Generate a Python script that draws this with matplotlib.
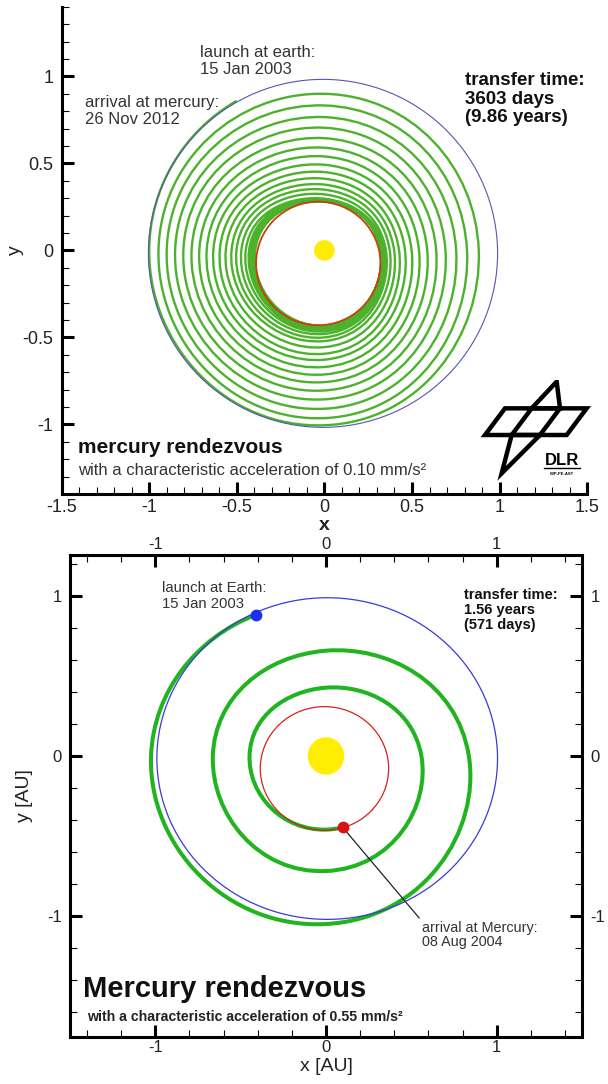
import numpy as np
import matplotlib
matplotlib.use('Agg')
import matplotlib.pyplot as plt
from matplotlib.patches import Ellipse, Polygon, PathPatch
from matplotlib.path import Path
from matplotlib.ticker import MultipleLocator, FuncFormatter

plt.rcParams['font.family'] = ['Liberation Sans', 'DejaVu Sans']
plt.rcParams['axes.unicode_minus'] = False

########################## top panel : 0.10 mm/s^2 ##########################
# ellipses: centre x, centre y, width, height  [AU]
earth_top = [-0.008, -0.017, 1.993, 2.0]
mercury_top = [-0.035, -0.075, 0.71, 0.71]
sun_top = [0.0, 0.0, 0.11, 0.11]

# spiral: distance from the sun where the path cuts the axes,
# one entry per turn, each turn read left -> bottom -> right -> top
launch_top = (-0.5, 0.86)
top_left = [1.0, 0.947, 0.900, 0.852, 0.805, 0.758, 0.714, 0.672, 0.634, 0.597,
            0.563, 0.530, 0.502, 0.474, 0.449, 0.430, 0.418, 0.408, 0.400, 0.395]
top_bottom = [1.005, 0.964, 0.910, 0.856, 0.805, 0.757, 0.713, 0.670, 0.628, 0.594,
              0.556, 0.521, 0.500, 0.480, 0.465, 0.455, 0.447, 0.440, 0.435, 0.432]
top_right = [0.881, 0.814, 0.752, 0.691, 0.638, 0.587, 0.540, 0.498, 0.460, 0.426,
             0.398, 0.373, 0.351, 0.340, 0.333, 0.328, 0.324, 0.321, 0.320, 0.320]
top_top = [0.900, 0.833, 0.766, 0.705, 0.645, 0.590, 0.540, 0.492, 0.450, 0.412,
           0.378, 0.349, 0.322, 0.297, 0.292, 0.288, 0.285, 0.282, 0.280, 0.280]

########################## bottom panel : 0.55 mm/s^2 #######################
earth_bot = [0.007, -0.016, 1.996, 2.01]
mercury_bot = [-0.009, -0.078, 0.752, 0.773]
sun_bot = [0.0, 0.0, 0.205, 0.225]

launch_bot = (-0.41, 0.883)
arrival_bot = (0.098, -0.446)
arrival_text_pos = (0.56, -1.03)
bot_left = [1.025, 0.663, 0.448]
bot_bottom = [1.05, 0.719, 0.46]
bot_right = [0.837, 0.559]
bot_top = [0.658, 0.427]


def spiral_path(start, lefts, bottoms, rights, tops, end=None):
    # crossing points in polar form, joined by cubic bezier segments
    th = [np.degrees(np.arctan2(start[1], start[0])) % 360]
    r = [np.hypot(*start)]
    for k in range(len(lefts)):
        for j, lst in enumerate([lefts, bottoms, rights, tops]):
            if k < len(lst):
                th.append(180.0 + 360.0 * k + 90.0 * j)
                r.append(lst[k])
    if end is not None:
        te = np.degrees(np.arctan2(end[1], end[0])) % 360
        while te <= th[-1]:
            te += 360.0
        th.append(te)
        r.append(np.hypot(*end))
    th = np.radians(th)
    r = np.array(r)
    n = len(th)
    dr = np.gradient(r, th)
    pts = np.c_[r * np.cos(th), r * np.sin(th)]
    der = np.c_[dr * np.cos(th) - r * np.sin(th), dr * np.sin(th) + r * np.cos(th)]
    verts = [pts[0]]
    codes = [Path.MOVETO]
    for i in range(n - 1):
        h = 4.0 / 3.0 * np.tan((th[i + 1] - th[i]) / 4.0)
        verts += [pts[i] + h * der[i], pts[i + 1] - h * der[i + 1], pts[i + 1]]
        codes += [Path.CURVE4] * 3
    return Path(verts, codes)


def orbit(ax, p, **kw):
    ax.add_patch(Ellipse((p[0], p[1]), p[2], p[3], fill=False, **kw))


fmt = FuncFormatter(lambda v, p: '%g' % (v + 0.0))
fig = plt.figure(figsize=(6.08, 10.84), dpi=100)

########################## top ##########################
ax1 = fig.add_axes([61.6 / 608, 1 - 494 / 1084, 525.6 / 608, 487.2 / 1084])
ax1.set_xlim(-1.5, 1.5)
ax1.set_ylim(-1.4, 1.4)

ax1.add_patch(PathPatch(spiral_path(launch_top, top_left, top_bottom, top_right, top_top),
                        fill=False, ec='#4cb22c', lw=1.7, zorder=2))
orbit(ax1, earth_top, color='#5656b0', lw=0.8, zorder=3)
orbit(ax1, mercury_top, color='#c8400c', lw=1.3, zorder=3)
ax1.add_patch(Ellipse((sun_top[0], sun_top[1]), sun_top[2], sun_top[3], color='#ffec00', zorder=4))

for s in ['top', 'right']:
    ax1.spines[s].set_visible(False)
for s in ['left', 'bottom']:
    ax1.spines[s].set_linewidth(2.2)
ax1.xaxis.set_major_locator(MultipleLocator(0.5))
ax1.xaxis.set_minor_locator(MultipleLocator(0.1))
ax1.yaxis.set_major_locator(MultipleLocator(0.5))
ax1.yaxis.set_minor_locator(MultipleLocator(0.1))
ax1.xaxis.set_major_formatter(fmt)
ax1.yaxis.set_major_formatter(fmt)
ax1.tick_params(which='both', direction='in', labelsize=13, labelcolor='#222')
ax1.tick_params(which='major', length=8.5, width=2.2)
ax1.tick_params(which='minor', length=5, width=0.8)
ax1.tick_params(axis='x', pad=3.5)
ax1.tick_params(axis='y', pad=6)
ax1.set_xlabel('x', fontsize=14, fontweight='bold', color='#222')
ax1.set_ylabel('y', fontsize=14, color='#222')
ax1.xaxis.set_label_coords(0.5, -0.047)
ax1.yaxis.set_label_coords(-0.072, 0.5)

ax1.text(-0.71, 1.087, 'launch at earth:\n15 Jan 2003', fontsize=12, color='#333',
         va='center', ha='left', linespacing=1.15)
ax1.text(-1.367, 0.80, 'arrival at mercury:\n26 Nov 2012', fontsize=12, color='#333',
         va='center', ha='left', linespacing=1.15)
ax1.text(0.805, 0.87, 'transfer time:\n3603 days\n(9.86 years)', fontsize=13.5,
         fontweight='bold', color='#111', va='center', ha='left', linespacing=1.12)
ax1.text(-1.407, -1.132, 'mercury rendezvous', fontsize=15, fontweight='bold',
         color='#111', va='center', ha='left')
ax1.text(-1.407, -1.264, 'with a characteristic acceleration of 0.10 mm/s²',
         fontsize=12, color='#333', va='center', ha='left')

# DLR logo
lg = fig.add_axes([440 / 608, 1 - 520 / 1084, 168 / 608, 140 / 1084])
lg.set_xlim(0, 504)
lg.set_ylim(420, 0)
lg.axis('off')
logo_kw = dict(fill=False, ec='black', lw=3.2, joinstyle='miter')
lg.add_patch(Polygon([(135, 165), (195, 85), (440, 85), (380, 165)], closed=True, **logo_kw))
lg.add_patch(Polygon([(275, 85), (350, 5), (360, 85)], closed=True, **logo_kw))
lg.add_patch(Polygon([(215, 165), (185, 280), (300, 165)], closed=True, **logo_kw))
lg.plot([215, 275], [165, 85], color='black', lw=3.2)
lg.plot([300, 360], [165, 85], color='black', lw=3.2)
lg.text(365, 242, 'DLR', fontsize=12, fontweight='bold', ha='center', va='center')
lg.plot([312, 420], [264, 264], color='black', lw=1.0)
lg.text(365, 282, 'WP-PE-AST', fontsize=3, fontweight='bold', ha='center', va='center')

########################## bottom ##########################
ax2 = fig.add_axes([70 / 608, 1 - 1037 / 1084, 512 / 608, 482 / 1084])
ax2.set_xlim(-1.5, 1.5)
ax2.set_ylim(-1.756, 1.256)

ax2.add_patch(PathPatch(spiral_path(launch_bot, bot_left, bot_bottom, bot_right, bot_top,
                                    arrival_bot),
                        fill=False, ec='#20b420', lw=2.9, zorder=2))
orbit(ax2, earth_bot, color='#3a3ad8', lw=0.9, zorder=3)
orbit(ax2, mercury_bot, color='#d42020', lw=0.9, zorder=3)
ax2.add_patch(Ellipse((sun_bot[0], sun_bot[1]), sun_bot[2], sun_bot[3], color='#ffee00', zorder=4))
ax2.plot(*launch_bot, 'o', ms=7.5, color='#1f2ff0', zorder=5)
ax2.plot(*arrival_bot, 'o', ms=7.5, color='#d61414', zorder=5)

for s in ax2.spines.values():
    s.set_linewidth(2.2)
ax2.xaxis.set_major_locator(MultipleLocator(1))
ax2.xaxis.set_minor_locator(MultipleLocator(0.2))
ax2.yaxis.set_major_locator(MultipleLocator(1))
ax2.yaxis.set_minor_locator(MultipleLocator(0.2))
ax2.xaxis.set_major_formatter(fmt)
ax2.yaxis.set_major_formatter(fmt)
ax2.tick_params(which='both', direction='in', top=True, right=True, labeltop=True,
                labelright=True, labelsize=12, labelcolor='#222')
ax2.tick_params(which='major', length=8.5, width=2.2)
ax2.tick_params(which='minor', length=5, width=0.8)
ax2.tick_params(axis='x', pad=2.5)
ax2.tick_params(axis='y', pad=6)
ax2.set_xlabel('x [AU]', fontsize=14, color='#222')
ax2.set_ylabel('y [AU]', fontsize=14, color='#222')
ax2.xaxis.set_label_coords(0.5, -0.044)
ax2.yaxis.set_label_coords(-0.072, 0.5)

ax2.text(-0.959, 1.0, 'launch at Earth:\n15 Jan 2003', fontsize=10.7, color='#333',
         va='center', ha='left', linespacing=1.1)
ax2.text(0.81, 0.9125, 'transfer time:\n1.56 years\n(571 days)', fontsize=10.5,
         fontweight='bold', color='#111', va='center', ha='left', linespacing=1.05)
ax2.annotate('arrival at Mercury:\n08 Aug 2004', xy=arrival_bot, xytext=arrival_text_pos,
             fontsize=10.4, color='#333', va='top', ha='left', linespacing=1.05,
             arrowprops=dict(arrowstyle='-', color='#222', lw=0.9, relpos=(0, 1),
                             shrinkA=0, shrinkB=0))
ax2.text(-1.424, -1.504, 'Mercury rendezvous', fontsize=21, fontweight='bold',
         color='#111', va='baseline', ha='left')
ax2.text(-1.402, -1.63, 'with a characteristic acceleration of 0.55 mm/s²', fontsize=10.2,
         fontweight='bold', color='#222', va='center', ha='left')

fig.savefig('out.png', dpi=100)
